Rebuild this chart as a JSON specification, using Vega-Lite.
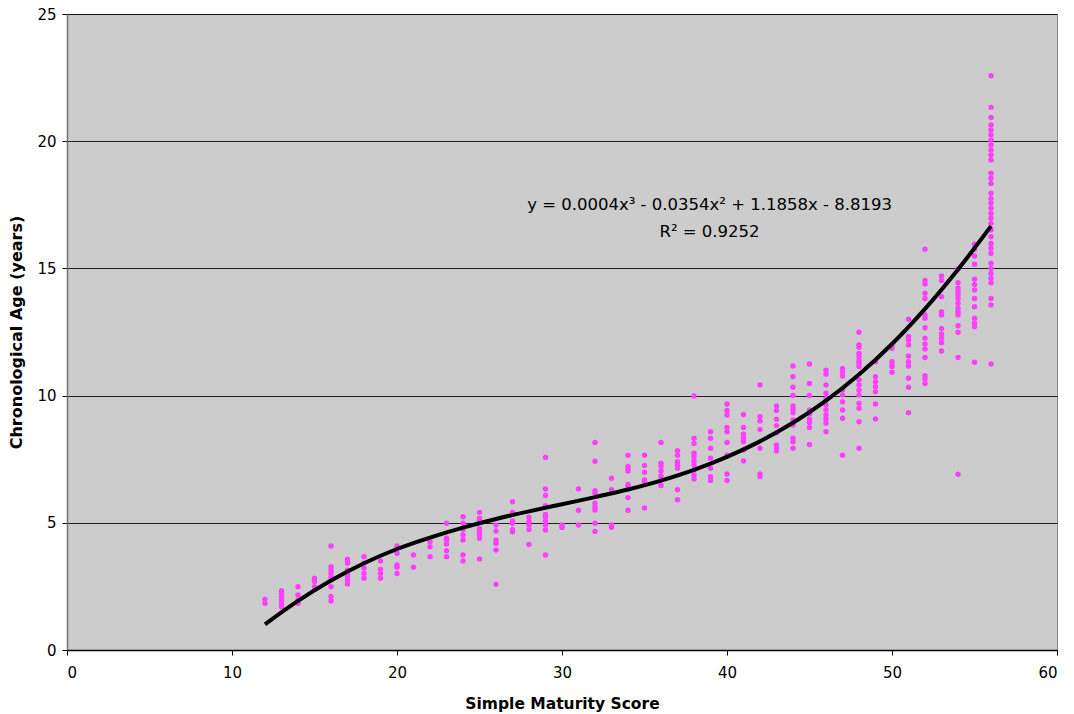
{
  "$schema": "https://vega.github.io/schema/vega-lite/v6.json",
  "width": 990,
  "height": 636,
  "autosize": {"type": "none"},
  "padding": {"left": 67, "top": 14, "right": 17, "bottom": 64},
  "background": "white",
  "config": {
    "font": "DejaVu Sans",
    "view": {"fill": "#CCCCCC", "stroke": "#888888", "strokeWidth": 1},
    "axis": {"labelFont": "DejaVu Sans", "titleFont": "DejaVu Sans", "labelColor": "#000000", "titleColor": "#000000"}
  },
  "datasets": {
    "pts": [
      {"s":12,"a":2.0},{"s":12,"a":1.84},
      {"s":13,"a":2.33},{"s":13,"a":2.23},{"s":13,"a":2.10},{"s":13,"a":1.97},{"s":13,"a":1.84},{"s":13,"a":1.70},
      {"s":14,"a":2.49},{"s":14,"a":2.16},{"s":14,"a":1.97},{"s":14,"a":1.84},
      {"s":15,"a":2.82},{"s":15,"a":2.69},{"s":15,"a":2.49},
      {"s":16,"a":4.09},{"s":16,"a":3.27},{"s":16,"a":3.14},{"s":16,"a":3.01},{"s":16,"a":2.88},{"s":16,"a":2.75},{"s":16,"a":2.49},{"s":16,"a":2.10},{"s":16,"a":1.93},
      {"s":17,"a":3.57},{"s":17,"a":3.47},{"s":17,"a":3.41},{"s":17,"a":3.14},{"s":17,"a":3.01},{"s":17,"a":2.88},{"s":17,"a":2.75},{"s":17,"a":2.59},
      {"s":18,"a":3.67},{"s":18,"a":3.41},{"s":18,"a":3.21},{"s":18,"a":3.01},{"s":18,"a":2.82},
      {"s":19,"a":3.50},{"s":19,"a":3.17},{"s":19,"a":3.01},{"s":19,"a":2.82},
      {"s":20,"a":4.09},{"s":20,"a":3.80},{"s":20,"a":3.34},{"s":20,"a":3.25},{"s":20,"a":3.01},
      {"s":21,"a":3.73},{"s":21,"a":3.25},
      {"s":22,"a":4.26},{"s":22,"a":4.06},{"s":22,"a":3.67},
      {"s":23,"a":4.98},{"s":23,"a":4.39},{"s":23,"a":4.32},{"s":23,"a":4.17},{"s":23,"a":3.90},{"s":23,"a":3.67},
      {"s":24,"a":5.24},{"s":24,"a":4.98},{"s":24,"a":4.74},{"s":24,"a":4.52},{"s":24,"a":4.32},{"s":24,"a":3.73},{"s":24,"a":3.50},
      {"s":25,"a":5.41},{"s":25,"a":5.18},{"s":25,"a":5.11},{"s":25,"a":4.78},{"s":25,"a":4.65},{"s":25,"a":4.52},{"s":25,"a":4.39},{"s":25,"a":3.58},
      {"s":26,"a":4.91},{"s":26,"a":4.68},{"s":26,"a":4.32},{"s":26,"a":4.19},{"s":26,"a":3.93},{"s":26,"a":2.58},
      {"s":27,"a":5.83},{"s":27,"a":5.41},{"s":27,"a":5.07},{"s":27,"a":4.98},{"s":27,"a":4.74},{"s":27,"a":4.65},
      {"s":28,"a":5.22},{"s":28,"a":5.05},{"s":28,"a":4.91},{"s":28,"a":4.74},{"s":28,"a":4.15},
      {"s":29,"a":7.57},{"s":29,"a":6.33},{"s":29,"a":6.07},{"s":29,"a":5.67},{"s":29,"a":5.33},{"s":29,"a":5.24},{"s":29,"a":5.07},{"s":29,"a":4.91},{"s":29,"a":4.72},{"s":29,"a":3.73},
      {"s":30,"a":4.91},{"s":30,"a":4.82},
      {"s":31,"a":6.33},{"s":31,"a":5.49},{"s":31,"a":4.91},
      {"s":32,"a":8.16},{"s":32,"a":7.42},{"s":32,"a":6.26},{"s":32,"a":6.16},{"s":32,"a":5.77},{"s":32,"a":5.61},{"s":32,"a":5.50},{"s":32,"a":4.98},{"s":32,"a":4.66},
      {"s":33,"a":6.75},{"s":33,"a":6.30},{"s":33,"a":4.91},{"s":33,"a":4.82},
      {"s":34,"a":7.66},{"s":34,"a":7.21},{"s":34,"a":7.11},{"s":34,"a":7.04},{"s":34,"a":6.51},{"s":34,"a":6.42},{"s":34,"a":5.99},{"s":34,"a":5.49},
      {"s":35,"a":7.66},{"s":35,"a":7.25},{"s":35,"a":6.99},{"s":35,"a":6.68},{"s":35,"a":6.60},{"s":35,"a":5.58},
      {"s":36,"a":8.16},{"s":36,"a":7.34},{"s":36,"a":7.21},{"s":36,"a":7.04},{"s":36,"a":6.84},{"s":36,"a":6.68},{"s":36,"a":6.47},
      {"s":37,"a":7.83},{"s":37,"a":7.66},{"s":37,"a":7.40},{"s":37,"a":7.27},{"s":37,"a":7.14},{"s":37,"a":6.30},{"s":37,"a":5.91},
      {"s":38,"a":9.98},{"s":38,"a":8.32},{"s":38,"a":8.12},{"s":38,"a":7.73},{"s":38,"a":7.60},{"s":38,"a":7.43},{"s":38,"a":7.27},{"s":38,"a":7.08},{"s":38,"a":6.88},{"s":38,"a":6.72},
      {"s":39,"a":8.58},{"s":39,"a":8.32},{"s":39,"a":7.93},{"s":39,"a":7.54},{"s":39,"a":7.14},{"s":39,"a":6.81},{"s":39,"a":6.66},
      {"s":40,"a":9.67},{"s":40,"a":9.41},{"s":40,"a":9.24},{"s":40,"a":8.75},{"s":40,"a":8.58},{"s":40,"a":8.16},{"s":40,"a":7.66},{"s":40,"a":6.92},{"s":40,"a":6.66},
      {"s":41,"a":9.26},{"s":41,"a":8.75},{"s":41,"a":8.48},{"s":41,"a":8.32},{"s":41,"a":8.19},{"s":41,"a":7.86},{"s":41,"a":7.43},
      {"s":42,"a":10.42},{"s":42,"a":9.17},{"s":42,"a":9.00},{"s":42,"a":8.67},{"s":42,"a":7.93},{"s":42,"a":6.92},{"s":42,"a":6.81},
      {"s":43,"a":9.59},{"s":43,"a":9.41},{"s":43,"a":9.07},{"s":43,"a":8.82},{"s":43,"a":8.54},{"s":43,"a":8.06},{"s":43,"a":7.93},{"s":43,"a":7.82},
      {"s":44,"a":11.16},{"s":44,"a":10.74},{"s":44,"a":10.33},{"s":44,"a":10.0},{"s":44,"a":9.59},{"s":44,"a":9.46},{"s":44,"a":9.33},{"s":44,"a":9.04},{"s":44,"a":8.84},{"s":44,"a":8.32},{"s":44,"a":8.19},{"s":44,"a":7.93},
      {"s":45,"a":11.24},{"s":45,"a":10.48},{"s":45,"a":10.0},{"s":45,"a":9.43},{"s":45,"a":9.28},{"s":45,"a":9.07},{"s":45,"a":8.94},{"s":45,"a":8.75},{"s":45,"a":8.08},
      {"s":46,"a":11.0},{"s":46,"a":10.84},{"s":46,"a":10.42},{"s":46,"a":10.09},{"s":46,"a":9.89},{"s":46,"a":9.63},{"s":46,"a":9.43},{"s":46,"a":9.24},{"s":46,"a":9.07},{"s":46,"a":8.91},{"s":46,"a":8.58},
      {"s":47,"a":11.07},{"s":47,"a":10.94},{"s":47,"a":10.77},{"s":47,"a":10.22},{"s":47,"a":10.02},{"s":47,"a":9.76},{"s":47,"a":9.43},{"s":47,"a":9.11},{"s":47,"a":7.66},
      {"s":48,"a":12.49},{"s":48,"a":11.99},{"s":48,"a":11.90},{"s":48,"a":11.66},{"s":48,"a":11.53},{"s":48,"a":11.37},{"s":48,"a":11.27},{"s":48,"a":11.14},{"s":48,"a":10.61},{"s":48,"a":10.42},{"s":48,"a":10.22},{"s":48,"a":10.02},{"s":48,"a":9.70},{"s":48,"a":9.50},{"s":48,"a":8.97},{"s":48,"a":7.93},
      {"s":49,"a":11.33},{"s":49,"a":10.74},{"s":49,"a":10.54},{"s":49,"a":10.35},{"s":49,"a":10.15},{"s":49,"a":9.67},{"s":49,"a":9.08},
      {"s":50,"a":11.99},{"s":50,"a":11.86},{"s":50,"a":11.33},{"s":50,"a":11.20},{"s":50,"a":11.14},{"s":50,"a":10.92},
      {"s":51,"a":13.0},{"s":51,"a":12.32},{"s":51,"a":12.19},{"s":51,"a":11.99},{"s":51,"a":11.56},{"s":51,"a":11.33},{"s":51,"a":11.16},{"s":51,"a":10.68},{"s":51,"a":10.33},{"s":51,"a":9.33},
      {"s":52,"a":15.75},{"s":52,"a":14.52},{"s":52,"a":14.39},{"s":52,"a":14.02},{"s":52,"a":13.82},{"s":52,"a":13.17},{"s":52,"a":13.04},{"s":52,"a":12.67},{"s":52,"a":12.25},{"s":52,"a":12.03},{"s":52,"a":11.83},{"s":52,"a":11.50},{"s":52,"a":10.78},{"s":52,"a":10.65},{"s":52,"a":10.48},
      {"s":53,"a":14.70},{"s":53,"a":14.52},{"s":53,"a":13.89},{"s":53,"a":13.30},{"s":53,"a":13.17},{"s":53,"a":12.64},{"s":53,"a":12.42},{"s":53,"a":12.25},{"s":53,"a":12.08},{"s":53,"a":11.75},
      {"s":54,"a":14.98},{"s":54,"a":14.44},{"s":54,"a":14.22},{"s":54,"a":14.09},{"s":54,"a":13.96},{"s":54,"a":13.82},{"s":54,"a":13.63},{"s":54,"a":13.43},{"s":54,"a":13.30},{"s":54,"a":13.17},{"s":54,"a":12.75},{"s":54,"a":12.49},{"s":54,"a":11.50},{"s":54,"a":6.91},
      {"s":55,"a":15.95},{"s":55,"a":15.75},{"s":55,"a":15.49},{"s":55,"a":15.16},{"s":55,"a":14.57},{"s":55,"a":14.37},{"s":55,"a":14.15},{"s":55,"a":13.82},{"s":55,"a":13.49},{"s":55,"a":13.04},{"s":55,"a":12.85},{"s":55,"a":12.71},{"s":55,"a":11.31},
      {"s":56,"a":22.57},{"s":56,"a":21.33},{"s":56,"a":20.93},{"s":56,"a":20.64},{"s":56,"a":20.44},{"s":56,"a":20.25},{"s":56,"a":20.05},{"s":56,"a":19.85},{"s":56,"a":19.65},{"s":56,"a":19.46},{"s":56,"a":19.26},{"s":56,"a":18.74},{"s":56,"a":18.54},{"s":56,"a":18.34},{"s":56,"a":17.95},{"s":56,"a":17.75},{"s":56,"a":17.56},{"s":56,"a":17.36},{"s":56,"a":17.16},{"s":56,"a":16.97},{"s":56,"a":16.77},{"s":56,"a":16.51},{"s":56,"a":16.24},{"s":56,"a":15.98},{"s":56,"a":15.79},{"s":56,"a":15.59},{"s":56,"a":15.20},{"s":56,"a":15.00},{"s":56,"a":14.80},{"s":56,"a":14.61},{"s":56,"a":14.44},{"s":56,"a":13.82},{"s":56,"a":13.56},{"s":56,"a":11.24}
    ],
    "trend": [
      {"s":12,"a":1.01},{"s":14,"a":1.93},{"s":16,"a":2.73},{"s":18,"a":3.41},{"s":20,"a":3.97},
      {"s":22,"a":4.42},{"s":24,"a":4.81},{"s":26,"a":5.15},{"s":28,"a":5.45},{"s":30,"a":5.73},
      {"s":32,"a":6.01},{"s":34,"a":6.31},{"s":36,"a":6.66},{"s":38,"a":7.08},{"s":40,"a":7.59},
      {"s":42,"a":8.20},{"s":44,"a":8.93},{"s":46,"a":9.80},{"s":48,"a":10.83},{"s":50,"a":12.03},
      {"s":52,"a":13.41},{"s":54,"a":14.96},{"s":56,"a":16.66}
    ],
    "eq": [
      {"t": "y = 0.0004x³ - 0.0354x² + 1.1858x - 8.8193", "line": 1},
      {"t": "R² = 0.9252", "line": 2}
    ]
  },
  "layer": [
    {
      "data": {"name": "pts"},
      "mark": {"type": "circle", "size": 30, "color": "#FF40FF", "opacity": 1},
      "encoding": {
        "x": {
          "field": "s", "type": "quantitative",
          "scale": {"domain": [0, 60], "nice": false, "zero": false},
          "axis": {
            "title": "Simple Maturity Score", "values": [0,10,20,30,40,50,60],
            "grid": false, "domainColor": "#000000", "domainWidth": 1.5,
            "tickColor": "#000000", "tickSize": 5,
            "labelFontSize": 15, "labelPadding": 10,
            "titleFontSize": 15.5, "titleFontWeight": "bold", "titlePadding": 16
          }
        },
        "y": {
          "field": "a", "type": "quantitative",
          "scale": {"domain": [0, 25], "nice": false},
          "axis": {
            "title": "Chronological Age (years)", "values": [0,5,10,15,20,25],
            "grid": true, "gridColor": "#000000", "gridWidth": 1, "gridOpacity": 0.85,
            "domainColor": "#707070", "domainWidth": 1.5,
            "tickColor": "#000000", "tickSize": 5,
            "labelFontSize": 15, "labelPadding": 6,
            "titleFontSize": 16, "titleFontWeight": "bold", "titlePadding": 12
          }
        }
      }
    },
    {
      "data": {"name": "trend"},
      "mark": {"type": "line", "color": "#000000", "strokeWidth": 4, "interpolate": "catmull-rom"},
      "encoding": {
        "x": {"field": "s", "type": "quantitative"},
        "y": {"field": "a", "type": "quantitative"}
      }
    },
    {
      "data": {"name": "eq"},
      "transform": [{"filter": "datum.line === 1"}],
      "mark": {"type": "text", "fontSize": 16.5, "font": "DejaVu Sans", "color": "#000000", "align": "center", "baseline": "middle"},
      "encoding": {
        "x": {"datum": 38.94, "type": "quantitative"},
        "y": {"datum": 17.49, "type": "quantitative"},
        "text": {"field": "t", "type": "nominal"}
      }
    },
    {
      "data": {"name": "eq"},
      "transform": [{"filter": "datum.line === 2"}],
      "mark": {"type": "text", "fontSize": 16.5, "font": "DejaVu Sans", "color": "#000000", "align": "center", "baseline": "middle"},
      "encoding": {
        "x": {"datum": 38.94, "type": "quantitative"},
        "y": {"datum": 16.44, "type": "quantitative"},
        "text": {"field": "t", "type": "nominal"}
      }
    }
  ]
}
